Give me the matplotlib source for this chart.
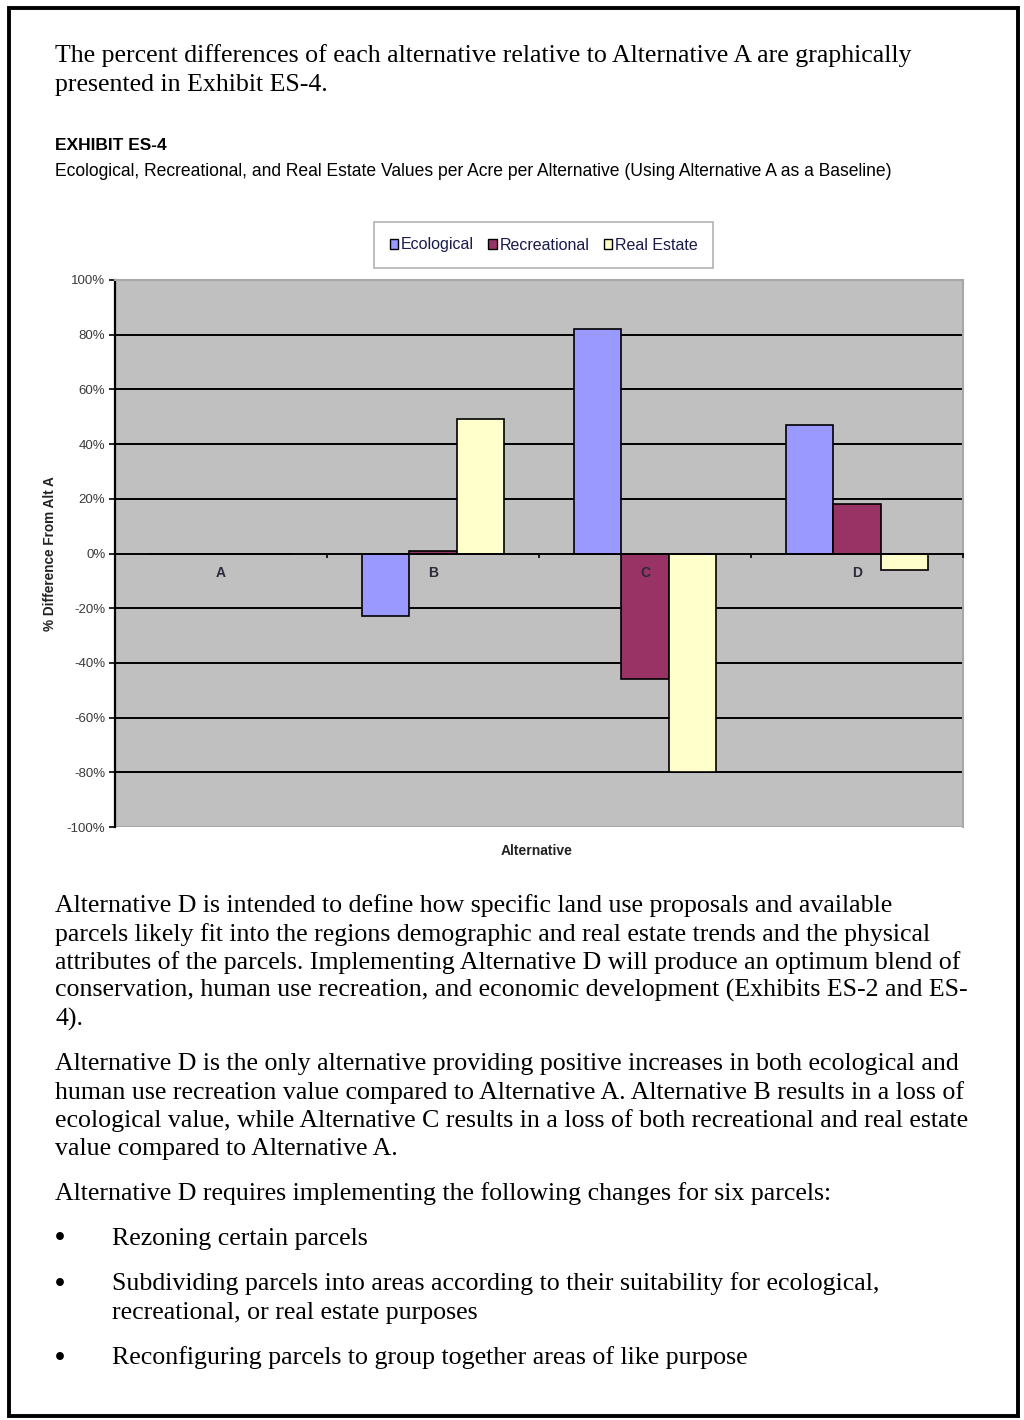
import matplotlib
matplotlib.use("Agg")
import matplotlib.pyplot as plt
from matplotlib.patches import Rectangle, Patch
from matplotlib import font_manager as fm
import numpy as np

# ---------------- data ----------------
alternatives = ["A", "B", "C", "D"]
ecological = [0, -23, 82, 47]
recreational = [0, 1, -46, 18]
real_estate = [0, 49, -80, -6]
series_names = ["Ecological", "Recreational", "Real Estate"]
series_colors = ["#9999FF", "#993366", "#FFFFCC"]
y_ticks = [-100, -80, -60, -40, -20, 0, 20, 40, 60, 80, 100]
grid_levels = [-80, -60, -40, -20, 20, 40, 60, 80]

para_intro = ["The percent differences of each alternative relative to Alternative A are graphically",
              "presented in Exhibit ES-4."]
exhibit_title = "EXHIBIT ES-4"
exhibit_sub = ("Ecological, Recreational, and Real Estate Values per Acre per Alternative "
               "(Using Alternative A as a Baseline)")
para2 = ["Alternative D is intended to define how specific land use proposals and available",
         "parcels likely fit into the regions demographic and real estate trends and the physical",
         "attributes of the parcels. Implementing Alternative D will produce an optimum blend of",
         "conservation, human use recreation, and economic development (Exhibits ES-2 and ES-",
         "4)."]
para3 = ["Alternative D is the only alternative providing positive increases in both ecological and",
         "human use recreation value compared to Alternative A. Alternative B results in a loss of",
         "ecological value, while Alternative C results in a loss of both recreational and real estate",
         "value compared to Alternative A."]
para4 = ["Alternative D requires implementing the following changes for six parcels:"]
bullets = [["Rezoning certain parcels"],
           ["Subdividing parcels into areas according to their suitability for ecological,",
            "recreational, or real estate purposes"],
           ["Reconfiguring parcels to group together areas of like purpose"]]

# ---------------- fonts ----------------
names = {f.name for f in fm.fontManager.ttflist}
serif = "Liberation Serif" if "Liberation Serif" in names else "DejaVu Serif"
sans = "Liberation Sans" if "Liberation Sans" in names else "DejaVu Sans"
narrow = "Liberation Sans Narrow" if "Liberation Sans Narrow" in names else sans

W, H = 1024, 1420
fig = plt.figure(figsize=(W / 100, H / 100), dpi=100)
fig.patch.set_facecolor("white")

def px(x, y):
    return x / W, 1 - y / H

# page border
fig.add_artist(Rectangle(px(9, 1416), 1009 / W, 1408 / H, transform=fig.transFigure,
                         fill=False, edgecolor="black", linewidth=2.8))

# fit body font size to reference width of first line
renderer = fig.canvas.get_renderer()
probe = fig.text(0, 0, para_intro[0], fontsize=16, family=serif)
w = probe.get_window_extent(renderer).width
probe.remove()
body_fs = 16 * 860 / w

def line(x, y, s, **kw):
    fig.text(*px(x, y), s, va="center", ha="left", **kw)

for i, s in enumerate(para_intro):
    line(55, 56 + 28.5 * i, s, fontsize=body_fs, family=serif)

line(55, 145, exhibit_title, fontsize=12.5, family=narrow, weight="bold")
probe = fig.text(0, 0, exhibit_sub, fontsize=12, family=narrow)
w = probe.get_window_extent(renderer).width
probe.remove()
line(55, 171, exhibit_sub, fontsize=12 * 842 / w, family=narrow)

for i, s in enumerate(para2):
    line(55, 906 + 28.3 * i, s, fontsize=body_fs, family=serif)
for i, s in enumerate(para3):
    line(55, 1064 + 28.3 * i, s, fontsize=body_fs, family=serif)
line(55, 1194, para4[0], fontsize=body_fs, family=serif)

bullet_y = [[1239], [1284, 1313], [1358]]
for b, ys in zip(bullets, bullet_y):
    line(55, ys[0], "\u2022", fontsize=body_fs * 1.1, family=serif, weight="bold")
    for s, y in zip(b, ys):
        line(112, y, s, fontsize=body_fs, family=serif)

# ---------------- chart ----------------
left, right, top, bottom = 115, 963, 280, 827
ax = fig.add_axes([left / W, 1 - bottom / H, (right - left) / W, (bottom - top) / H])
ax.set_facecolor("#C0C0C0")
x = np.arange(len(alternatives))
bw = 0.222
for k, (vals, c, n) in enumerate(zip([ecological, recreational, real_estate], series_colors, series_names)):
    ax.bar(x + (k - 1) * bw, vals, width=bw, color=c, edgecolor="black", linewidth=1.2,
           label=n, zorder=3)
for g in grid_levels:
    ax.axhline(g, color="black", linewidth=1.4, zorder=1)
ax.axhline(-100, color="#A8A8A8", linewidth=1.5, zorder=1)

ax.set_xlim(-0.5, len(alternatives) - 0.5)
ax.set_ylim(-100, 100)
ax.set_yticks(y_ticks)
ax.set_yticklabels([f"{v}%" for v in y_ticks], fontsize=9.5, color="#3a3a3a", family=sans)
ax.tick_params(axis="y", direction="out", length=4, width=1.2, pad=3)

ax.spines["bottom"].set_position(("data", 0))
ax.spines["bottom"].set_linewidth(1.4)
ax.spines["bottom"].set_zorder(4)
ax.spines["left"].set_linewidth(1.6)
for s in ["top", "right"]:
    ax.spines[s].set_color("#A8A8A8")
    ax.spines[s].set_linewidth(1.5)
ax.set_xticks(x)
ax.set_xticklabels(alternatives, fontsize=10, weight="bold", color="#2a2a3a", family=sans)
ax.tick_params(axis="x", which="major", length=0, pad=9)
ax.set_xticks(np.arange(-0.5, len(alternatives)), minor=True)
ax.tick_params(axis="x", which="minor", direction="out", length=3, width=1.2)
ax.xaxis.set_zorder(5)

ax.set_ylabel("% Difference From Alt A", fontsize=9.8, weight="bold", family=sans,
              color="#222222")
ax.yaxis.set_label_coords(-0.068, 0.5)
fig.text(*px(537, 851), "Alternative", fontsize=10, weight="bold", family=sans,
         ha="center", va="center", color="#222222")

handles = [Patch(facecolor=c, edgecolor="black", linewidth=1.0) for c in series_colors]
leg = fig.legend(handles, series_names, loc="center",
                 bbox_to_anchor=((372 + 715) / 2 / W, 1 - 245 / H),
                 ncol=3, frameon=True, fancybox=False,
                 handlelength=0.55, handleheight=0.55, handletextpad=0.15, columnspacing=0.9,
                 borderpad=1.0, prop={"family": sans, "size": 11.5})
leg.get_frame().set_edgecolor("#A0A0A0")
leg.get_frame().set_linewidth(1.2)
for t in leg.get_texts():
    t.set_color("#1a1a4a")

fig.savefig("out.png", dpi=100)
